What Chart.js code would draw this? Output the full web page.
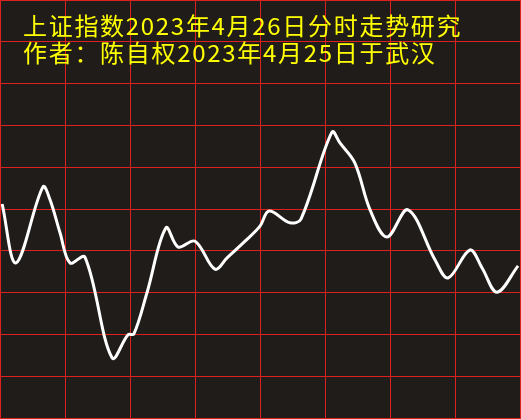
<!DOCTYPE html>
<html>
<head>
<meta charset="utf-8">
<script src="https://cdn.jsdelivr.net/npm/chart.js@4/dist/chart.umd.min.js"></script>
<style>
  html, body { margin: 0; padding: 0; background: #201c1a; }
  #wrap { position: relative; width: 521px; height: 419px; }
</style>
</head>
<body>
<div id="wrap"><canvas id="c"></canvas></div>
<script>
// Title lines
const titleLines = ["上证指数2023年4月26日分时走势研究", "作者：陈自权2023年4月25日于武汉"];
// Time of day in minutes since open (0..240), 30-minute grid
const minutes = [1, 7.4, 19.8, 23.1, 27.7, 32.3, 39.2, 51.7, 59.1, 61.8, 67.8, 76.6, 82.2, 90, 99.2, 104.8, 113.1, 120, 124.2, 133.8, 138.9, 153.2, 156.9, 163.8, 170.8, 178.6, 188.3, 200.8, 206.8, 216.9, 222.5, 229.4, 239.1];
// Index level in grid units (0..10)
const levels = [5.12, 3.71, 5.53, 5.22, 4.43, 3.71, 3.85, 1.44, 1.99, 2.01, 2.99, 4.55, 4.09, 4.23, 3.56, 3.83, 4.23, 4.59, 4.95, 4.67, 4.76, 6.84, 6.58, 6.10, 4.98, 4.33, 4.98, 3.78, 3.35, 4.02, 3.59, 3.01, 3.64];

const gridRed = 'rgb(221,32,32)';

const titlePlugin = {
  id: 'titleText',
  afterDraw(chart) {
    const ctx = chart.ctx;
    ctx.save();
    ctx.fillStyle = '#ffff00';
    ctx.font = '24px "Noto Sans CJK SC"';
    ctx.textBaseline = 'alphabetic';
    const baselines = [35, 62];
    titleLines.forEach((line, i) => {
      let x = 23;
      for (const ch of line) {
        ctx.fillText(ch, x, baselines[i]);
        x += ctx.measureText(ch).width + 1.7;
      }
    });
    ctx.restore();
  }
};

new Chart(document.getElementById('c'), {
  type: 'line',
  data: {
    datasets: [{
      data: minutes.map((m, i) => ({ x: m, y: levels[i] })),
      borderColor: '#ffffff',
      borderWidth: 3,
      pointRadius: 0,
      tension: 0.35,
      fill: false
    }]
  },
  options: {
    responsive: true,
    maintainAspectRatio: false,
    animation: false,
    layout: { padding: { left: 0, top: 0, right: 1, bottom: 1 } },
    plugins: { legend: { display: false }, tooltip: { enabled: false }, title: { display: false } },
    scales: {
      x: {
        type: 'linear', min: 0, max: 240,
        ticks: { display: false, stepSize: 30 },
        grid: { color: gridRed, lineWidth: 1, drawTicks: false },
        border: { display: true, color: gridRed, width: 1 }
      },
      y: {
        min: 0, max: 10,
        ticks: { display: false, stepSize: 1 },
        grid: { color: gridRed, lineWidth: 1, drawTicks: false },
        border: { display: true, color: gridRed, width: 1 }
      }
    }
  },
  plugins: [titlePlugin]
});
</script>
</body>
</html>
